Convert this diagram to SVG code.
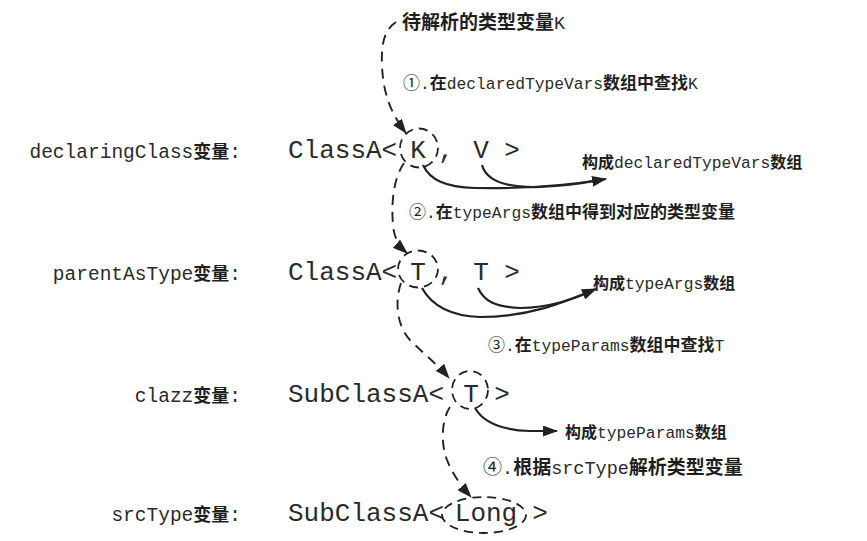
<svg xmlns="http://www.w3.org/2000/svg" width="867" height="541" viewBox="0 0 867 541">
<style>
.m{font-family:"Liberation Mono","Noto Sans CJK SC",monospace;fill:#2a2a2a}
.cj{font-family:"Noto Sans CJK SC",sans-serif;font-weight:bold;fill:#1e1e1e}
.cn{font-family:"Noto Sans CJK SC",sans-serif;font-weight:normal;fill:#1e1e1e}
.lbl{font-size:19.5px}
.main{font-size:26px}
.ann{font-size:16.3px}
.ann .cj,.ann .cn{font-size:17px}
.big{font-size:18.5px}
.big .cj,.big .cn{font-size:19px}
.out{font-size:16.3px}
.out .cj{font-size:16px}
.dash{fill:none;stroke:#222;stroke-width:1.9;stroke-dasharray:10 7}
.sol{fill:none;stroke:#222;stroke-width:2.2}
.ring{fill:none;stroke:#222;stroke-width:1.8;stroke-dasharray:9 6}
</style>
<defs>
<marker id="ah" markerWidth="15" markerHeight="11" refX="14" refY="5.5" orient="auto" markerUnits="userSpaceOnUse"><path d="M0,0 L15,5.5 L0,11 Z" fill="#222"/></marker>
</defs>
<rect width="867" height="541" fill="#fff"/>

<g id="target-label">
<text class="m big" x="402" y="29"><tspan class="cj">待解析的类型变量</tspan>K</text>
</g>

<g id="step1"><text class="m ann" x="403" y="89"><tspan class="cn">①</tspan>.<tspan class="cj">在</tspan>declaredTypeVars<tspan class="cj">数组中查找</tspan>K</text></g>
<g id="step2"><text class="m ann" x="409" y="218"><tspan class="cn">②</tspan>.<tspan class="cj">在</tspan>typeArgs<tspan class="cj">数组中得到对应的类型变量</tspan></text></g>
<g id="step3"><text class="m ann" x="488" y="351"><tspan class="cn">③</tspan>.<tspan class="cj">在</tspan>typeParams<tspan class="cj">数组中查找</tspan>T</text></g>
<g id="step4"><text class="m big" x="483" y="474"><tspan class="cn">④</tspan>.<tspan class="cj">根据</tspan>srcType<tspan class="cj">解析类型变量</tspan></text></g>

<g id="declaringClass">
<text class="m lbl" x="241" y="158" text-anchor="end">declaringClass<tspan class="cj" font-size="18">变量</tspan>:</text>
<text class="m main" x="288" y="158">ClassA&lt;</text>
<text class="m main" x="418" y="158" text-anchor="middle">K</text>
<text class="m main" x="446" y="158" text-anchor="middle">,</text>
<text class="m main" x="481" y="158" text-anchor="middle">V</text>
<text class="m main" x="512" y="158" text-anchor="middle">&gt;</text>
<ellipse class="ring" cx="419" cy="148" rx="19" ry="19.5"/>
</g>
<g id="declaredTypeVars">
<text class="m out" x="582" y="168"><tspan class="cj">构成</tspan>declaredTypeVars<tspan class="cj">数组</tspan></text>
</g>

<g id="parentAsType">
<text class="m lbl" x="241" y="280" text-anchor="end">parentAsType<tspan class="cj" font-size="18">变量</tspan>:</text>
<text class="m main" x="288" y="280">ClassA&lt;</text>
<text class="m main" x="418" y="280" text-anchor="middle">T</text>
<text class="m main" x="446" y="280" text-anchor="middle">,</text>
<text class="m main" x="481" y="280" text-anchor="middle">T</text>
<text class="m main" x="512" y="280" text-anchor="middle">&gt;</text>
<ellipse class="ring" cx="418" cy="269" rx="20" ry="18.5"/>
</g>
<g id="typeArgs">
<text class="m out" x="593" y="289"><tspan class="cj">构成</tspan>typeArgs<tspan class="cj">数组</tspan></text>
</g>

<g id="clazz">
<text class="m lbl" x="241" y="402" text-anchor="end">clazz<tspan class="cj" font-size="18">变量</tspan>:</text>
<text class="m main" x="288" y="402">SubClassA&lt;</text>
<text class="m main" x="471" y="402" text-anchor="middle">T</text>
<text class="m main" x="502" y="402" text-anchor="middle">&gt;</text>
<ellipse class="ring" cx="470" cy="390" rx="18" ry="19"/>
</g>
<g id="typeParams">
<text class="m out" x="565" y="438"><tspan class="cj">构成</tspan>typeParams<tspan class="cj">数组</tspan></text>
</g>

<g id="srcType">
<text class="m lbl" x="241" y="521" text-anchor="end">srcType<tspan class="cj" font-size="18">变量</tspan>:</text>
<text class="m main" x="288" y="521">SubClassA&lt;</text>
<text class="m main" x="486" y="521" text-anchor="middle">Long</text>
<text class="m main" x="540" y="521" text-anchor="middle">&gt;</text>
<ellipse class="ring" cx="484" cy="515" rx="42" ry="18"/>
</g>

<g id="connectors">
<path class="dash" d="M396,22 C384,30 381,45 382,65 C383,95 392,115 406,133" marker-end="url(#ah)"/>
<path class="dash" d="M404,163 C394,178 391,200 393,225 C394,238 399,246 407,253" marker-end="url(#ah)"/>
<path class="dash" d="M401,283 C395,300 396,325 410,340 C425,355 438,365 449,378" marker-end="url(#ah)"/>
<path class="dash" d="M450,407 C441,420 441,445 447,460 C453,475 462,487 471,497" marker-end="url(#ah)"/>
<path class="sol" d="M423,165 C430,180 445,187 475,188 C525,189 570,185 606,179" marker-end="url(#ah)"/>
<path class="sol" d="M482,165 C486,180 505,188 540,187 C565,186 585,183 600,180"/>
<path class="sol" d="M422,288 C432,306 450,316 480,317 C530,317 565,302 596,289" marker-end="url(#ah)"/>
<path class="sol" d="M478,288 C484,301 495,307 520,308 C550,308 575,298 590,292"/>
<path class="sol" d="M475,408 C483,422 500,430 530,431 L557,431" marker-end="url(#ah)"/>
</g>
</svg>
